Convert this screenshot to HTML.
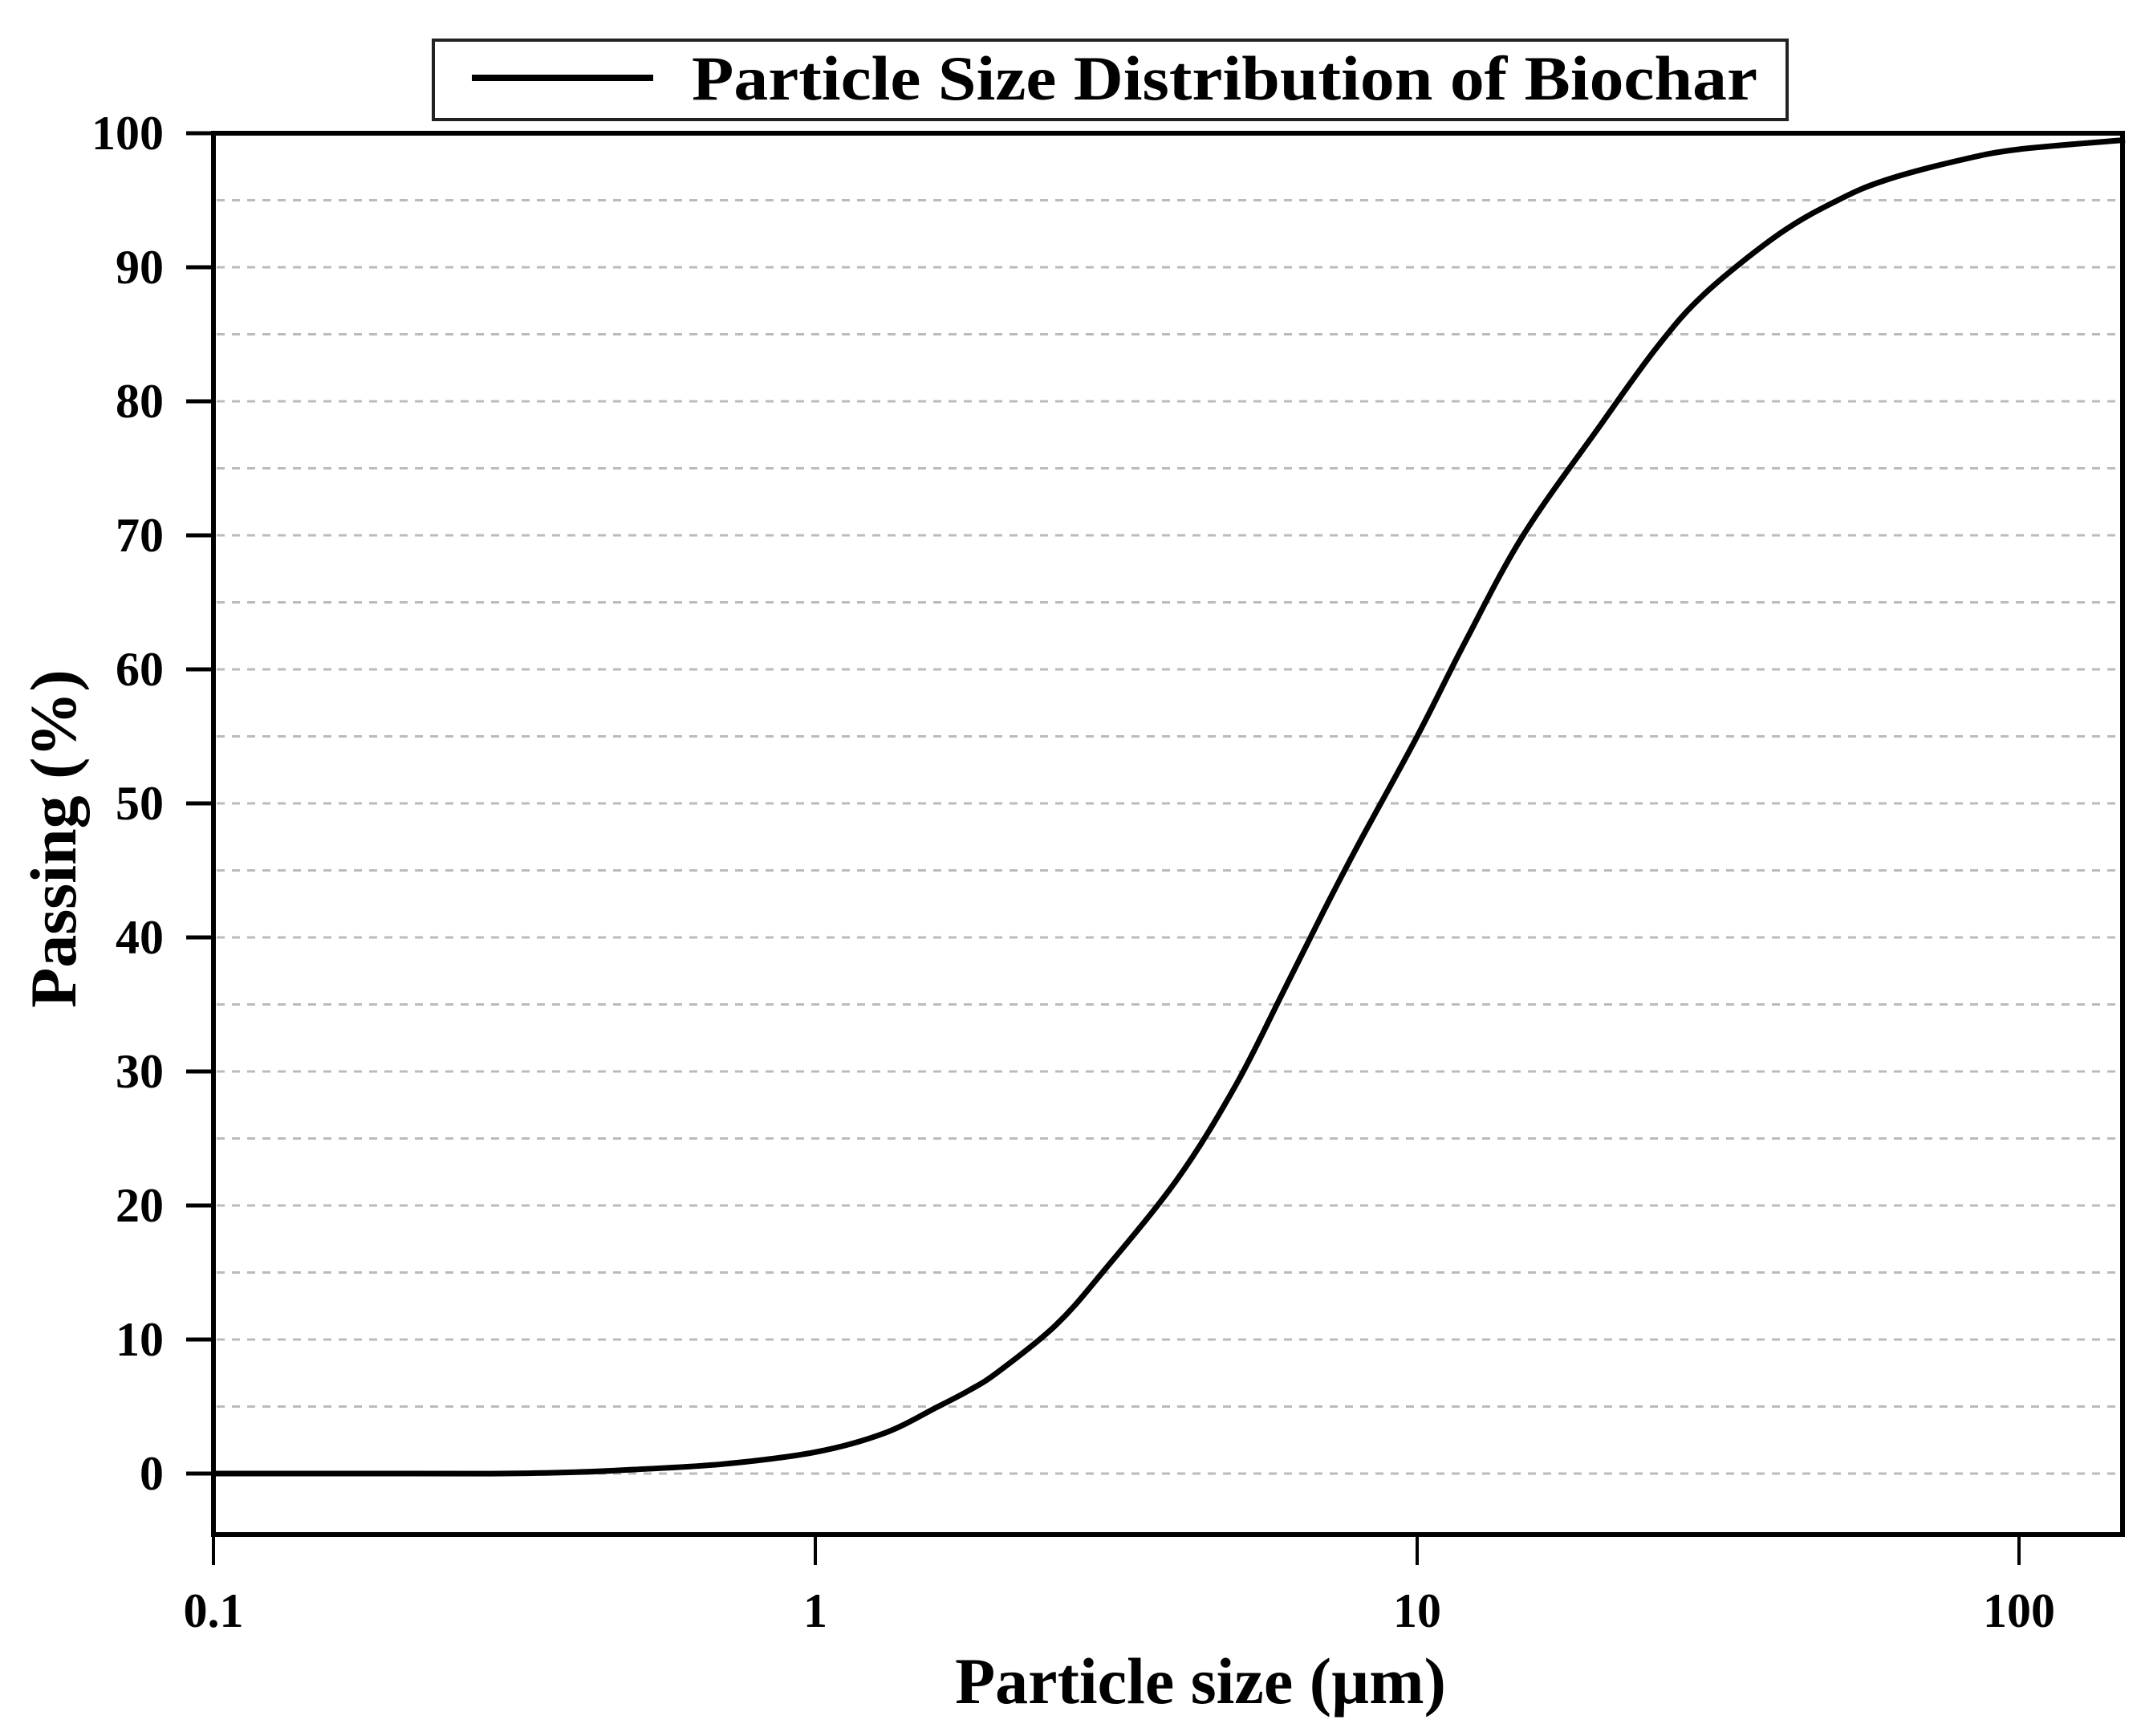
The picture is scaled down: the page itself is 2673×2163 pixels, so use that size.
<!DOCTYPE html>
<html><head><meta charset="utf-8"><style>
html,body{margin:0;padding:0;background:#fff;}
svg{display:block;}
text{font-family:"Liberation Serif",serif;font-weight:bold;fill:#000;}
</style></head><body>
<svg id="chart" width="2673" height="2163" viewBox="0 0 2673 2163"></svg>
<script>
const sizes = [0.1,0.2,0.3,0.4,0.5,0.7,1,1.3,1.6,1.8,2,2.5,3,4,5,6,7,8,10,12,15,20,25,30,40,50,60,80,100,150];
const passing = [0,0,0,0.1,0.3,0.7,1.6,3,5,6.2,7.5,11,15,22,29,36,42,47,55,62,70,78,84,88,92.5,95,96.5,98,98.8,99.5];
const yTicks = [0,10,20,30,40,50,60,70,80,90,100];
const xTicks = [0.1,1,10,100];
const xTickLabels = ["0.1","1","10","100"];

const L=266,R=2645,T=166,B=1912;
const xMin=0.1,xMax=148.6,yMin=-4.55,yMax=100;
function sx(v){return L+(Math.log10(v)-Math.log10(xMin))/(Math.log10(xMax)-Math.log10(xMin))*(R-L);}
function sy(v){return B-(v-yMin)/(yMax-yMin)*(B-T);}
const svg=document.getElementById('chart');
const NS='http://www.w3.org/2000/svg';
function mk(tag,attrs,parent){const e=document.createElementNS(NS,tag);for(const k in attrs)e.setAttribute(k,attrs[k]);(parent||svg).appendChild(e);return e;}

for(let v=0;v<=95;v+=5){
  const g=mk('line',{x1:L+4,x2:R-4,y1:sy(v),y2:sy(v),stroke:'#bbb','stroke-width':3,'stroke-dasharray':'10 9'});
  
  
}
yTicks.forEach(v=>{
  const t=mk('line',{x1:L-34,x2:L,y1:sy(v),y2:sy(v),stroke:'#000','stroke-width':5});
  
  
  const lb=mk('text',{x:204,y:sy(v)+20,'font-size':60,'text-anchor':'end'});
  lb.textContent=v;
  
  
});
xTicks.forEach((v,i)=>{
  const t=mk('line',{x1:sx(v),x2:sx(v),y1:B,y2:B+38,stroke:'#000','stroke-width':4});
  
  
  const lb=mk('text',{x:sx(v),y:2027,'font-size':60,'text-anchor':'middle'});
  lb.textContent=xTickLabels[i];
  
  
});
// smooth curve (Catmull-Rom)
const pts=sizes.map((s,i)=>[sx(s),sy(passing[i])]);
let d='M'+pts[0][0].toFixed(1)+','+pts[0][1].toFixed(1);
for(let i=0;i<pts.length-1;i++){
  const p0=pts[Math.max(0,i-1)],p1=pts[i],p2=pts[i+1],p3=pts[Math.min(pts.length-1,i+2)];
  const c1=[p1[0]+(p2[0]-p0[0])/6,p1[1]+(p2[1]-p0[1])/6];
  const c2=[p2[0]-(p3[0]-p1[0])/6,p2[1]-(p3[1]-p1[1])/6];
  d+='C'+c1[0].toFixed(1)+','+c1[1].toFixed(1)+' '+c2[0].toFixed(1)+','+c2[1].toFixed(1)+' '+p2[0].toFixed(1)+','+p2[1].toFixed(1);
}
const path=mk('path',{d:d,fill:'none',stroke:'#000','stroke-width':7,'stroke-linejoin':'round'});


const fr=mk('rect',{x:L,y:T,width:R-L,height:B-T,fill:'none',stroke:'#000','stroke-width':6});


const lg=mk('g',{});


mk('rect',{x:540,y:50,width:1687,height:99,fill:'#fff',stroke:'#222','stroke-width':4},lg);
mk('line',{x1:588,x2:814,y1:97,y2:97,stroke:'#000','stroke-width':8},lg);
const lt=mk('text',{x:862,y:124,'font-size':78,textLength:1328,lengthAdjust:'spacingAndGlyphs'},lg);
lt.textContent='Particle Size Distribution of Biochar';
const xt=mk('text',{x:1496,y:2122,'font-size':82,'text-anchor':'middle'});
xt.textContent='Particle size (µm)';


const yt=mk('text',{x:0,y:0,'font-size':82,'text-anchor':'middle',transform:'translate(94,1045) rotate(-90)'});
yt.textContent='Passing (%)';


</script>
</body></html>
